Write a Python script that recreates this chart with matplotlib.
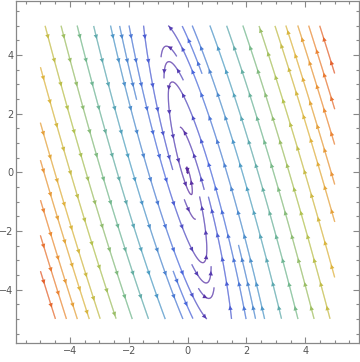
import numpy as np
import matplotlib
matplotlib.use("Agg")
from matplotlib import pyplot as plt
from matplotlib.colors import LinearSegmentedColormap
from matplotlib.collections import LineCollection

# linear field  x' = dx_coef . (x, y),  y' = dy_coef . (x, y)
dx_coef = [-1.0, -0.25]
dy_coef = [3.4, 0.57]
x_range = [-5, 5]
y_range = [-5, 5]
ticks = [-4, -2, 0, 2, 4]
tick_labels = ["\u22124", "\u22122", "0", "2", "4"]

# speed colour scale (purple -> red)
stops = [0.0, 0.13, 0.32, 0.48, 0.62, 0.74, 0.86, 1.0]
cols = ["#5a2a9e", "#4a66dc", "#4f9fc4", "#74b98c", "#b3c24f", "#dfb43e", "#ec8a36", "#de4127"]
cmap = LinearSegmentedColormap.from_list("speed", list(zip(stops, cols)))

A = np.array([dx_coef, dy_coef])
lo, hi = x_range


def streams(dsep=0.53, dtest=0.27, h=0.02):
    occ = {}
    lines = []

    def near(p, own):
        i, j = int((p[0] - lo) // dtest), int((p[1] - lo) // dtest)
        for di in (-1, 0, 1):
            for dj in (-1, 0, 1):
                for q, lid in occ.get((i + di, j + dj), []):
                    if lid != own and (q[0] - p[0])**2 + (q[1] - p[1])**2 < dtest**2:
                        return True
        return False

    def unit(p):
        v = A @ p
        return v / np.hypot(*v)

    def integ(p0, sgn, lid):
        pts = []
        p = np.array(p0, float)
        for _ in range(3000):
            if np.hypot(*(A @ p)) < 1e-3:
                break
            k1 = unit(p)
            k2 = unit(p + 0.5 * h * sgn * k1)
            k3 = unit(p + 0.5 * h * sgn * k2)
            k4 = unit(p + h * sgn * k3)
            p = p + h * sgn * (k1 + 2 * k2 + 2 * k3 + k4) / 6
            if p[0] < lo or p[0] > hi or p[1] < y_range[0] or p[1] > y_range[1]:
                break
            if near(p, lid):
                break
            pts.append(p.copy())
        return pts

    # first a row of seeds across the middle, then a grid for what is left
    row = [(x, 0.0) for x in np.arange(0.8, hi, dsep)] + [(x, 0.0) for x in np.arange(-0.8, lo, -dsep)]
    grid = [(x, y) for x in np.arange(lo + 0.2, hi, 0.4)
            for y in np.arange(y_range[0] + 0.2, y_range[1], 0.4)]
    grid.sort(key=lambda s: s[0]**2 + s[1]**2)
    for s in row + grid:
        if near(np.array(s), -1):
            continue
        lid = len(lines)
        b = integ(s, -1, lid)
        f = integ(s, 1, lid)
        pts = b[::-1] + [np.array(s, float)] + f
        if len(pts) < 10:
            continue
        for q in pts:
            i, j = int((q[0] - lo) // dtest), int((q[1] - lo) // dtest)
            occ.setdefault((i, j), []).append((q, lid))
        lines.append(np.array(pts))
    return lines


fig = plt.figure(figsize=(3.6, 3.62), dpi=100)
ax = fig.add_axes([0.045, 0.052, 0.952, 0.944])

corners = np.array([[hi, y_range[1]], [hi, y_range[0]], [lo, y_range[1]], [lo, y_range[0]]])
smax = max(np.hypot(*(A @ c)) for c in corners)
for ln in streams():
    sp = np.hypot(*(A @ ln.T)) / smax
    segs = np.stack([ln[:-1], ln[1:]], axis=1)
    ax.add_collection(LineCollection(segs, colors=cmap(sp[:-1]), linewidths=0.9))
    for k in range(22, len(ln) - 2, 42):
        ax.annotate("", xy=ln[k + 1], xytext=ln[k - 1],
                    arrowprops=dict(arrowstyle="-|>", color=cmap(sp[k]), lw=0,
                                    mutation_scale=8, shrinkA=0, shrinkB=0))

ax.set_xlim(-5.82, 5.82)
ax.set_ylim(-5.82, 5.82)
ax.set_xticks(ticks)
ax.set_xticklabels(tick_labels)
ax.set_yticks(ticks)
ax.set_yticklabels(tick_labels)
ax.set_xticks(np.arange(-5.5, 5.6, 0.5), minor=True)
ax.set_yticks(np.arange(-5.5, 5.6, 0.5), minor=True)
ax.tick_params(which="both", direction="in", top=True, right=True, color="#888888",
               labelcolor="#555555", labelsize=7, width=0.8, pad=2)
ax.tick_params(which="major", length=4.5)
ax.tick_params(which="minor", length=2.5)
for s in ax.spines.values():
    s.set_color("#888888")
    s.set_linewidth(0.9)

fig.savefig("out.png")
